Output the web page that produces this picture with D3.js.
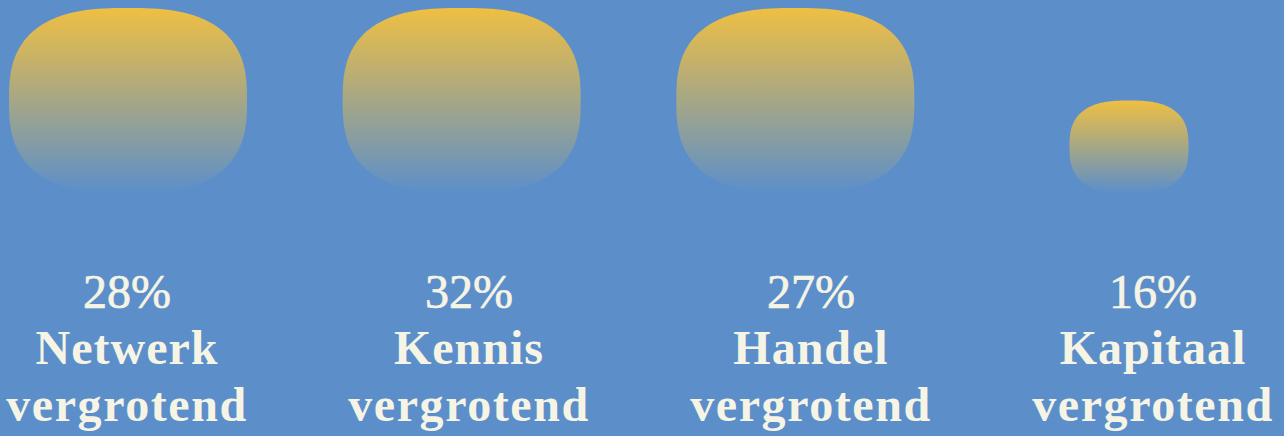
<!DOCTYPE html>
<html>
<head>
<meta charset="utf-8">
<script src="https://cdn.jsdelivr.net/npm/d3@7"></script>
<style>
  html, body { margin: 0; padding: 0; background: #5c8fca; overflow: hidden; }
  svg { display: block; }
</style>
</head>
<body>
<svg id="chart" width="1284" height="436"></svg>
<script>
// Share of respondents per type of benefit
const categories = ["Netwerk", "Kennis", "Handel", "Kapitaal"];
const values = [28, 32, 27, 16];
const suffix = "vergrotend";

const W = 1284, H = 436;
const bg = "#5c8fca";
const yellow = "#efbf42";
const cream = "#f6f4e4";

const svg = d3.select("#chart");
svg.append("rect").attr("width", W).attr("height", H).attr("fill", bg);

// Vertical gradient: warm yellow on top melting into the background blue
const defs = svg.append("defs");
const grad = defs.append("linearGradient")
  .attr("id", "blobFill")
  .attr("x1", 0).attr("y1", 0).attr("x2", 0).attr("y2", 1);
grad.append("stop").attr("offset", "0%").attr("stop-color", yellow).attr("stop-opacity", 1);
grad.append("stop").attr("offset", "100%").attr("stop-color", yellow).attr("stop-opacity", 0);

// Scales
const xShape = d3.scalePoint().domain(categories).range([128, 1129]);
const xText = d3.scalePoint().domain(categories).range([127, 1153]);
const size = d3.scaleLinear().domain([8, 24]).range([0, 1]).clamp(true);
const maxW = 238, maxH = 185, baseY = 193;

// Superellipse outline centred on the origin
function squircle(a, b, n) {
  const pts = d3.range(0, 360, 1).map(deg => {
    const t = deg * Math.PI / 180;
    const c = Math.cos(t), s = Math.sin(t);
    return [a * Math.sign(c) * Math.pow(Math.abs(c), 2 / n),
            b * Math.sign(s) * Math.pow(Math.abs(s), 2 / n)];
  });
  return d3.line().curve(d3.curveLinearClosed)(pts);
}

const data = categories.map((c, i) => ({ cat: c, val: values[i] }));

const g = svg.selectAll("g.item").data(data).join("g").attr("class", "item");

g.append("path")
  .attr("d", d => {
    const k = size(d.val);
    return squircle(maxW * k / 2, maxH * k / 2, 2.7);
  })
  .attr("transform", d => {
    const k = size(d.val);
    return `translate(${xShape(d.cat)},${baseY - maxH * k / 2})`;
  })
  .attr("fill", "url(#blobFill)");

const font = "'Liberation Serif', 'DejaVu Serif', serif";

g.append("text")
  .attr("x", d => xText(d.cat)).attr("y", 308)
  .attr("text-anchor", "middle")
  .attr("font-family", font).attr("font-size", 48).attr("font-weight", 400)
  .attr("fill", cream).attr("stroke", cream).attr("stroke-width", 0.7)
  .text(d => d.val + "%");

g.append("text")
  .attr("x", d => xText(d.cat)).attr("y", 364)
  .attr("text-anchor", "middle")
  .attr("font-family", font).attr("font-size", 48).attr("font-weight", 700)
  .attr("letter-spacing", 1)
  .attr("fill", cream)
  .text(d => d.cat);

g.append("text")
  .attr("x", d => xText(d.cat)).attr("y", 421)
  .attr("text-anchor", "middle")
  .attr("font-family", font).attr("font-size", 48).attr("font-weight", 700)
  .attr("letter-spacing", 1.6)
  .attr("fill", cream)
  .text(suffix);
</script>
</body>
</html>
